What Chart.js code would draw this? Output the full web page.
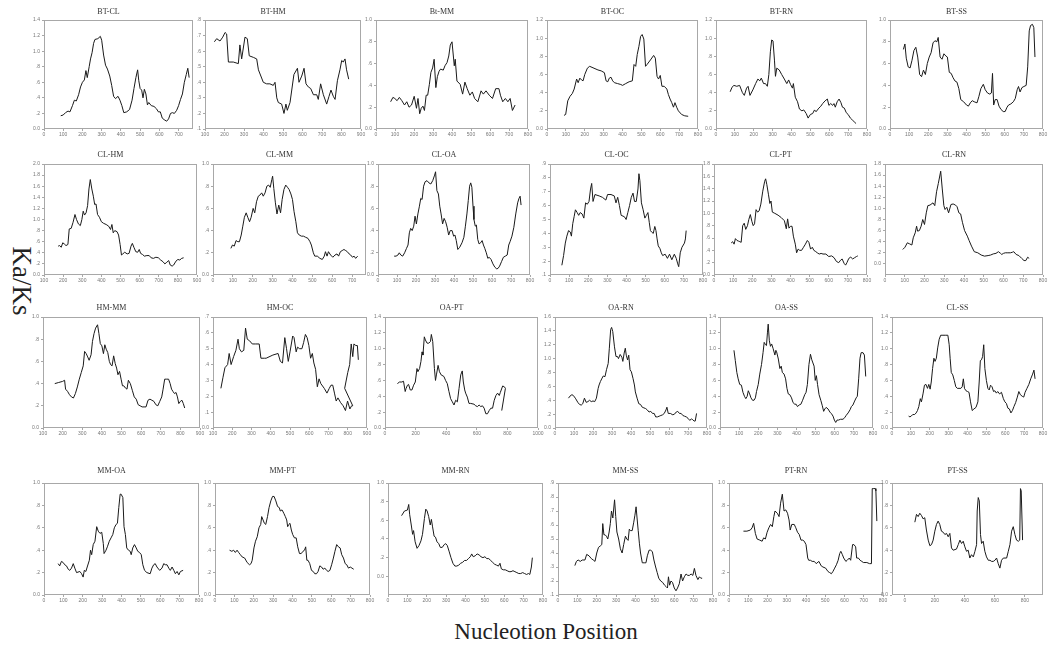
<!DOCTYPE html>
<html>
<head>
<meta charset="utf-8">
<script src="https://cdn.jsdelivr.net/npm/chart.js@4.4.1/dist/chart.umd.min.js"></script>
<style>
  body { margin: 0; background: #fff; }
  #page { position: relative; width: 1048px; height: 648px; overflow: hidden; background: #fff; }
  canvas { position: absolute; }
  .big { position: absolute; font-family: "Liberation Serif", "Times New Roman", serif; color: #222; white-space: nowrap; }
</style>
</head>
<body>
<div id="page">
  <div class="big" id="yTitle" style="left:21px; top:281px; font-size:27px; transform: translate(-50%, -50%) rotate(90deg);">Ka/Ks</div>
  <div class="big" id="xTitle" style="left:546px; top:632px; font-size:23px; transform: translate(-50%, -50%);">Nucleotion Position</div>
</div>
<script>
// panel titles, row by row
const TITLES = [
  'BT-CL', 'BT-HM', 'Bt-MM', 'BT-OC', 'BT-RN', 'BT-SS',
  'CL-HM', 'CL-MM', 'CL-OA', 'CL-OC', 'CL-PT', 'CL-RN',
  'HM-MM', 'HM-OC', 'OA-PT', 'OA-RN', 'OA-SS', 'CL-SS',
  'MM-OA', 'MM-PT', 'MM-RN', 'MM-SS', 'PT-RN', 'PT-SS'
];

// x axis: [min, max, first tick, last tick, tick step]
const X_AXES = [
  [0, 775, 0, 700, 100], [100, 900, 100, 900, 100], [0, 800, 0, 800, 100], [0, 800, 0, 800, 100], [0, 800, 0, 800, 100], [0, 800, 0, 800, 100],
  [100, 900, 100, 900, 100], [0, 770, 0, 700, 100], [0, 800, 0, 800, 100], [0, 800, 0, 800, 100], [0, 800, 0, 800, 100], [0, 800, 0, 800, 100],
  [100, 900, 100, 900, 100], [100, 900, 100, 900, 100], [0, 1000, 0, 1000, 200], [0, 800, 0, 800, 100], [0, 800, 0, 800, 100], [0, 800, 0, 800, 100],
  [0, 800, 0, 800, 100], [0, 800, 0, 800, 100], [0, 800, 0, 800, 100], [0, 800, 0, 800, 100], [0, 800, 0, 800, 100], [-85, 920, 0, 800, 200]
];

// y axis (Ka/Ks): [min, max, first tick, last tick, tick step]
const Y_AXES = [
  [0, 1.4, 0, 1.4, 0.2], [0.1, 0.8, 0.1, 0.8, 0.1], [0, 1, 0, 1, 0.2], [0, 1.2, 0, 1.2, 0.2], [0, 1.2, 0, 1.2, 0.2], [0, 1, 0, 1, 0.2],
  [0, 2, 0, 2, 0.2], [0, 1, 0, 1, 0.2], [0, 1, 0, 1, 0.2], [0.1, 0.9, 0.1, 0.9, 0.1], [0, 1.8, 0, 1.8, 0.2], [-0.2, 1.8, 0, 1.8, 0.2],
  [0, 1, 0, 1, 0.2], [0, 0.7, 0, 0.7, 0.1], [0, 1.4, 0, 1.4, 0.2], [0, 1.6, 0, 1.6, 0.2], [0, 1.4, 0, 1.4, 0.2], [0, 1.4, 0, 1.4, 0.2],
  [0, 1, 0, 1, 0.2], [0, 1, 0, 1, 0.2], [-0.2, 1, 0, 1, 0.2], [0.1, 0.9, 0.1, 0.9, 0.1], [0, 1, 0, 1, 0.2], [0, 1, 0, 1, 0.2]
];

// series: [nucleotide position, Ka/Ks]
const BT_CL = [[87,.17],[100,.18],[112,.21],[125,.23],[135,.22],[148,.30],[158,.37],[168,.36],[180,.44],[190,.54],[200,.60],[210,.63],[218,.75],[225,.66],[235,.80],[242,.90],[250,.98],[258,1.10],[265,1.15],[280,1.16],[293,1.19],[300,1.14],[310,.95],[320,.82],[330,.77],[342,.68],[352,.56],[362,.42],[372,.39],[385,.42],[395,.37],[405,.30],[415,.21],[430,.22],[445,.25],[458,.37],[468,.52],[478,.66],[487,.76],[493,.62],[500,.52],[508,.50],[515,.40],[522,.51],[530,.45],[538,.31],[545,.34],[558,.30],[572,.29],[585,.26],[595,.22],[605,.22],[615,.14],[625,.12],[638,.10],[648,.13],[658,.20],[668,.21],[678,.20],[690,.24],[700,.30],[710,.38],[720,.45],[730,.60],[740,.70],[748,.78],[755,.66]];
const BT_HM = [[148,.66],[160,.68],[177,.665],[191,.69],[203,.72],[211,.71],[220,.53],[245,.53],[271,.52],[279,.64],[288,.55],[305,.69],[317,.68],[327,.57],[348,.56],[365,.55],[374,.48],[399,.40],[416,.39],[433,.39],[450,.38],[459,.40],[468,.30],[476,.27],[493,.26],[505,.20],[515,.26],[522,.22],[536,.27],[556,.45],[574,.49],[582,.40],[596,.44],[608,.49],[618,.39],[630,.37],[642,.36],[656,.32],[673,.32],[681,.29],[693,.39],[707,.32],[724,.26],[736,.31],[746,.35],[758,.31],[767,.29],[779,.41],[792,.48],[801,.54],[809,.53],[818,.55],[826,.48],[837,.42]];
const BT_MM = [[77,.25],[89,.29],[99,.28],[111,.26],[123,.29],[136,.26],[150,.22],[162,.25],[174,.20],[187,.22],[201,.30],[213,.19],[221,.28],[230,.14],[238,.19],[247,.21],[255,.17],[264,.31],[272,.31],[281,.41],[289,.52],[298,.56],[306,.64],[315,.38],[323,.48],[332,.53],[340,.55],[354,.54],[363,.58],[374,.61],[383,.67],[391,.77],[400,.80],[412,.58],[417,.64],[426,.44],[443,.41],[456,.32],[468,.43],[480,.37],[494,.31],[507,.34],[519,.28],[536,.25],[553,.35],[565,.32],[579,.35],[596,.31],[613,.28],[630,.37],[647,.37],[655,.31],[667,.25],[681,.28],[694,.25],[706,.28],[718,.17],[732,.22]];
const BT_OC = [[90,.15],[99,.16],[110,.31],[122,.36],[134,.39],[144,.44],[157,.55],[165,.51],[174,.56],[183,.54],[191,.53],[200,.60],[214,.67],[226,.69],[270,.65],[287,.64],[304,.62],[313,.53],[322,.52],[330,.56],[339,.57],[348,.53],[357,.51],[374,.50],[391,.49],[400,.48],[417,.50],[435,.52],[452,.53],[461,.71],[470,.69],[478,.82],[487,.91],[496,1.02],[504,1.04],[513,.99],[522,.69],[530,.71],[548,.76],[565,.81],[574,.78],[583,.58],[591,.55],[600,.59],[609,.47],[621,.47],[635,.44],[643,.38],[652,.33],[661,.29],[670,.24],[678,.29],[687,.24],[696,.20],[713,.16],[730,.145],[748,.14]];
const BT_RN = [[75,.41],[85,.46],[95,.48],[110,.47],[125,.48],[140,.40],[150,.37],[162,.45],[170,.47],[180,.37],[195,.43],[210,.50],[222,.55],[232,.53],[240,.56],[252,.50],[262,.50],[272,.47],[280,.60],[288,.85],[295,.98],[302,.97],[310,.75],[315,.58],[322,.67],[335,.65],[348,.60],[362,.55],[375,.50],[385,.54],[395,.49],[405,.45],[410,.50],[420,.35],[432,.30],[442,.22],[455,.20],[465,.21],[478,.17],[488,.12],[500,.16],[512,.17],[522,.21],[530,.19],[545,.23],[555,.25],[565,.28],[578,.31],[590,.33],[598,.26],[608,.28],[618,.26],[625,.28],[632,.24],[642,.30],[652,.33],[662,.29],[670,.24],[680,.23],[690,.18],[700,.16],[712,.12],[722,.10],[732,.08],[742,.06]];
const BT_SS = [[70,.73],[78,.78],[85,.65],[95,.57],[105,.56],[115,.63],[125,.72],[135,.75],[145,.66],[155,.50],[165,.48],[175,.54],[185,.50],[195,.60],[205,.66],[215,.70],[225,.79],[235,.81],[245,.80],[252,.84],[262,.66],[272,.64],[282,.69],[292,.67],[300,.66],[310,.52],[320,.51],[330,.47],[340,.44],[350,.43],[360,.37],[370,.27],[385,.25],[400,.22],[410,.21],[420,.24],[430,.26],[440,.25],[455,.24],[465,.30],[475,.37],[488,.41],[498,.36],[510,.33],[522,.32],[530,.33],[536,.51],[542,.22],[550,.27],[560,.27],[570,.21],[580,.18],[592,.16],[602,.16],[612,.20],[620,.22],[632,.23],[645,.25],[655,.28],[665,.36],[672,.39],[680,.34],[690,.38],[700,.39],[712,.40],[720,.57],[728,.90],[735,.95],[745,.96],[752,.93],[758,.66]];

const CL_HM = [[174,.52],[182,.53],[190,.50],[198,.58],[206,.56],[215,.53],[225,.55],[232,.83],[242,.84],[252,.95],[262,1.09],[270,1.0],[280,.92],[290,.89],[298,1.0],[305,1.15],[312,1.08],[320,1.12],[328,1.25],[335,1.55],[342,1.72],[350,1.55],[358,1.42],[365,1.27],[372,1.28],[380,1.09],[390,1.04],[400,.96],[412,.93],[425,.91],[438,.88],[448,.82],[455,.91],[462,.76],[470,.80],[482,.78],[490,.72],[498,.55],[505,.36],[512,.38],[522,.41],[535,.38],[545,.39],[555,.52],[562,.57],[570,.50],[580,.42],[590,.41],[598,.46],[605,.39],[615,.37],[625,.34],[638,.35],[650,.35],[660,.31],[672,.30],[685,.32],[698,.31],[710,.27],[722,.24],[732,.20],[742,.23],[752,.26],[760,.18],[770,.16],[778,.18],[790,.25],[800,.28],[810,.27],[820,.30],[830,.31]];
const CL_MM = [[90,.24],[98,.27],[107,.26],[116,.31],[125,.30],[133,.30],[142,.36],[150,.44],[158,.52],[167,.56],[175,.52],[184,.48],[192,.52],[202,.60],[210,.56],[219,.66],[228,.71],[236,.72],[245,.74],[253,.71],[262,.74],[271,.80],[280,.81],[288,.79],[296,.86],[300,.89],[306,.78],[314,.65],[322,.55],[331,.63],[340,.56],[348,.68],[357,.77],[366,.81],[375,.79],[383,.77],[392,.73],[400,.68],[408,.57],[417,.48],[425,.38],[434,.36],[445,.35],[455,.35],[466,.34],[478,.33],[488,.30],[495,.27],[505,.20],[512,.17],[525,.17],[538,.15],[550,.14],[560,.17],[566,.21],[574,.17],[581,.21],[592,.18],[603,.16],[614,.18],[624,.19],[632,.17],[641,.21],[650,.22],[659,.23],[668,.22],[676,.21],[685,.19],[693,.18],[702,.16],[710,.17],[718,.15],[728,.17]];
const CL_OA = [[85,.17],[95,.17],[105,.18],[112,.20],[120,.18],[130,.17],[140,.20],[150,.24],[158,.27],[165,.38],[172,.42],[180,.40],[188,.44],[195,.53],[202,.46],[210,.55],[218,.62],[225,.69],[232,.68],[240,.80],[248,.84],[258,.85],[268,.83],[278,.82],[288,.85],[298,.90],[303,.93],[310,.76],[318,.73],[325,.62],[332,.55],[340,.46],[348,.51],[356,.48],[364,.43],[372,.36],[380,.40],[390,.40],[398,.35],[405,.36],[412,.31],[420,.23],[430,.25],[442,.29],[452,.34],[460,.44],[468,.55],[475,.67],[482,.80],[488,.83],[494,.79],[500,.62],[505,.50],[512,.44],[518,.45],[525,.32],[532,.28],[540,.29],[548,.31],[555,.27],[562,.24],[570,.20],[578,.15],[585,.16],[595,.14],[605,.10],[615,.07],[625,.055],[632,.06],[640,.08],[650,.12],[660,.16],[670,.17],[680,.18],[688,.27],[695,.30],[705,.35],[715,.43],[725,.55],[735,.65],[742,.69],[748,.71],[753,.63]];
const CL_OC = [[62,.17],[71,.24],[80,.33],[88,.38],[97,.42],[106,.41],[112,.38],[119,.47],[126,.52],[133,.57],[142,.55],[150,.53],[158,.55],[168,.54],[177,.51],[186,.62],[195,.61],[204,.63],[212,.72],[218,.76],[225,.63],[235,.68],[257,.67],[274,.66],[292,.64],[301,.68],[319,.68],[336,.67],[345,.62],[354,.66],[363,.60],[372,.53],[389,.52],[398,.50],[407,.55],[416,.60],[425,.66],[434,.69],[442,.63],[451,.63],[460,.72],[465,.83],[470,.78],[478,.62],[487,.57],[496,.51],[504,.53],[512,.55],[519,.48],[525,.42],[531,.41],[540,.40],[548,.45],[554,.42],[560,.36],[566,.31],[575,.29],[582,.26],[589,.24],[602,.25],[614,.22],[625,.25],[637,.21],[650,.25],[660,.22],[668,.18],[673,.16],[681,.26],[690,.30],[703,.33],[708,.36],[712,.42]];
const CL_PT = [[90,.52],[98,.54],[105,.50],[112,.59],[120,.56],[128,.55],[135,.54],[142,.53],[150,.80],[158,.84],[166,.74],[175,.80],[182,.90],[190,.98],[198,.87],[205,.80],[212,.83],[220,1.06],[228,1.02],[236,1.04],[245,1.15],[255,1.36],[265,1.52],[270,1.56],[276,1.47],[285,1.30],[292,1.16],[298,1.20],[305,1.02],[318,1.00],[335,.97],[352,.93],[368,.88],[378,.75],[385,.91],[392,.76],[400,.79],[408,.79],[415,.63],[425,.50],[432,.36],[440,.42],[448,.40],[458,.40],[468,.45],[478,.50],[488,.56],[496,.53],[505,.42],[514,.45],[522,.40],[532,.38],[540,.36],[550,.34],[560,.35],[570,.34],[585,.34],[600,.30],[615,.31],[628,.28],[640,.22],[652,.20],[662,.24],[670,.26],[680,.19],[688,.16],[695,.20],[705,.27],[715,.29],[725,.26],[735,.28],[745,.30],[752,.31]];
const CL_RN = [[90,.26],[101,.30],[113,.38],[125,.36],[136,.34],[143,.47],[153,.56],[160,.68],[165,.59],[174,.60],[183,.68],[191,.80],[200,.71],[209,.92],[217,1.05],[228,1.06],[243,1.10],[252,1.05],[261,1.30],[270,1.45],[282,1.67],[290,1.35],[298,1.05],[304,.98],[313,1.02],[322,.92],[334,1.07],[345,1.08],[357,1.06],[365,1.03],[374,.92],[383,.90],[392,.75],[403,.60],[417,.50],[426,.42],[438,.32],[452,.22],[470,.20],[487,.16],[504,.14],[522,.15],[535,.16],[548,.18],[562,.19],[574,.22],[585,.19],[591,.17],[600,.19],[609,.20],[622,.20],[635,.20],[645,.21],[652,.22],[664,.17],[678,.15],[692,.10],[704,.06],[713,.06],[722,.12],[730,.10]];

const HM_MM = [[160,.40],[180,.41],[200,.42],[210,.43],[215,.35],[225,.33],[235,.30],[245,.28],[255,.27],[265,.31],[275,.37],[285,.44],[295,.50],[305,.56],[312,.69],[320,.67],[328,.64],[335,.61],[345,.66],[352,.78],[360,.85],[368,.90],[378,.93],[385,.85],[392,.76],[400,.74],[408,.67],[415,.75],[422,.71],[430,.68],[438,.60],[445,.57],[452,.56],[460,.65],[468,.58],[475,.54],[482,.48],[490,.51],[498,.44],[505,.38],[512,.38],[520,.36],[528,.35],[535,.43],[545,.40],[555,.34],[565,.28],[575,.26],[585,.21],[595,.20],[605,.19],[615,.19],[625,.19],[635,.25],[645,.26],[655,.25],[665,.24],[675,.21],[685,.20],[695,.24],[705,.28],[712,.35],[720,.44],[730,.44],[740,.44],[748,.40],[755,.35],[762,.33],[770,.31],[778,.32],[785,.28],[792,.22],[800,.24],[808,.25],[815,.22],[822,.18]];
const HM_OC = [[141,.25],[152,.32],[162,.38],[176,.40],[184,.47],[194,.40],[207,.45],[219,.49],[230,.56],[237,.50],[248,.48],[260,.49],[269,.63],[278,.56],[290,.55],[304,.53],[322,.53],[340,.53],[349,.44],[367,.44],[376,.44],[411,.46],[438,.47],[450,.42],[461,.41],[473,.57],[482,.50],[491,.42],[500,.48],[514,.58],[521,.57],[532,.48],[539,.51],[550,.50],[562,.50],[571,.54],[580,.59],[589,.57],[598,.52],[607,.44],[616,.47],[624,.41],[633,.37],[642,.26],[651,.31],[660,.28],[678,.25],[692,.22],[704,.25],[713,.27],[722,.27],[731,.22],[740,.17],[749,.19],[763,.16],[776,.14],[788,.11],[799,.17],[811,.12],[820,.14],[826,.14],[784,.25],[800,.35],[810,.40],[818,.53],[826,.45],[832,.53],[842,.52],[850,.52],[855,.43]];
const OA_PT = [[81,.56],[95,.58],[110,.58],[121,.59],[132,.46],[138,.50],[147,.54],[154,.55],[165,.48],[176,.48],[187,.54],[198,.58],[209,.75],[215,.71],[226,.75],[235,.84],[242,.96],[248,.92],[257,1.15],[264,1.11],[275,1.07],[286,1.07],[297,1.09],[303,1.18],[312,1.09],[323,.75],[330,.60],[336,.67],[347,.79],[356,.71],[367,.67],[385,.65],[396,.60],[407,.56],[418,.46],[429,.37],[440,.33],[451,.29],[462,.35],[473,.33],[484,.50],[495,.67],[505,.72],[512,.58],[521,.48],[527,.44],[538,.39],[549,.31],[560,.31],[582,.30],[593,.28],[604,.27],[615,.29],[626,.27],[637,.28],[648,.25],[659,.18],[670,.18],[681,.22],[692,.25],[703,.25],[714,.35],[725,.41],[736,.44],[747,.41],[754,.45],[769,.53],[780,.52],[787,.50],[763,.22]];
const OA_RN = [[71,.43],[79,.46],[89,.48],[96,.47],[107,.43],[120,.37],[129,.34],[138,.33],[146,.35],[155,.43],[164,.37],[173,.38],[182,.40],[191,.38],[200,.39],[209,.38],[218,.43],[227,.57],[232,.62],[239,.67],[248,.72],[254,.75],[263,.74],[271,.84],[280,.93],[286,1.15],[293,1.42],[298,1.45],[304,1.39],[313,1.17],[321,1.03],[329,1.03],[334,1.0],[343,1.06],[352,1.02],[357,.96],[364,1.08],[370,1.15],[375,1.05],[382,.98],[388,1.05],[395,.84],[402,.81],[411,.71],[418,.62],[423,.52],[432,.43],[441,.35],[450,.34],[459,.30],[468,.29],[477,.28],[486,.26],[495,.23],[504,.24],[513,.21],[522,.21],[530,.16],[539,.16],[548,.17],[557,.18],[566,.19],[575,.21],[584,.26],[589,.30],[596,.21],[607,.21],[620,.19],[629,.20],[638,.23],[646,.24],[655,.21],[664,.21],[673,.18],[682,.17],[691,.16],[700,.14],[709,.11],[718,.13],[725,.12],[732,.10],[738,.10],[745,.21]];
const OA_SS = [[73,.98],[80,.85],[88,.70],[95,.62],[103,.55],[112,.54],[120,.45],[128,.40],[135,.37],[142,.40],[148,.47],[155,.43],[162,.38],[170,.35],[178,.35],[185,.38],[191,.46],[200,.55],[208,.68],[217,.80],[225,.95],[231,1.08],[238,1.05],[243,1.04],[248,1.20],[252,1.31],[258,1.10],[264,1.03],[270,1.06],[278,1.00],[287,.92],[292,.98],[296,.96],[305,.87],[313,.75],[320,.78],[326,.70],[335,.68],[343,.62],[350,.50],[357,.43],[365,.42],[374,.38],[382,.32],[391,.30],[398,.30],[405,.27],[414,.29],[423,.30],[432,.35],[443,.42],[450,.45],[457,.55],[465,.80],[473,.93],[480,.86],[486,.82],[492,.78],[498,.60],[504,.66],[510,.55],[518,.42],[527,.35],[535,.28],[542,.21],[548,.24],[555,.26],[565,.24],[575,.20],[583,.18],[591,.15],[598,.10],[605,.07],[612,.10],[620,.10],[630,.11],[643,.11],[652,.13],[660,.16],[670,.19],[680,.23],[687,.27],[695,.29],[704,.34],[712,.38],[718,.40],[725,.62],[732,.88],[738,.95],[748,.95],[755,.92],[762,.65]];
const CL_SS = [[88,.15],[95,.14],[102,.15],[110,.17],[120,.17],[128,.19],[135,.22],[142,.27],[150,.37],[156,.33],[165,.44],[172,.54],[180,.55],[188,.50],[195,.55],[202,.49],[208,.58],[215,.75],[222,.88],[228,.84],[235,.88],[242,1.01],[250,1.12],[258,1.17],[270,1.17],[285,1.17],[296,1.17],[303,1.05],[308,.88],[314,.70],[322,.67],[330,.60],[338,.52],[346,.50],[355,.50],[365,.50],[372,.52],[378,.62],[384,.50],[392,.47],[400,.46],[408,.45],[416,.33],[425,.22],[434,.24],[445,.26],[455,.33],[462,.58],[468,.85],[474,.86],[480,.90],[486,1.05],[492,.75],[500,.60],[508,.50],[515,.48],[522,.54],[530,.52],[538,.46],[545,.47],[553,.44],[560,.46],[570,.43],[580,.45],[590,.37],[598,.33],[606,.31],[614,.25],[622,.24],[630,.19],[638,.22],[646,.27],[655,.32],[664,.39],[672,.46],[680,.42],[690,.40],[698,.39],[705,.45],[715,.50],[725,.55],[735,.62],[745,.68],[752,.73],[758,.62]];

const MM_OA = [[73,.28],[81,.26],[90,.30],[99,.29],[107,.27],[116,.26],[125,.23],[133,.22],[142,.24],[151,.28],[159,.24],[168,.20],[185,.21],[194,.19],[202,.16],[208,.22],[216,.21],[223,.25],[234,.31],[240,.40],[246,.36],[254,.45],[263,.48],[272,.61],[280,.57],[289,.55],[298,.56],[306,.46],[310,.37],[320,.40],[327,.43],[337,.48],[346,.51],[355,.54],[363,.60],[372,.63],[379,.64],[386,.78],[393,.90],[398,.90],[407,.87],[413,.61],[420,.54],[427,.42],[436,.40],[445,.39],[450,.36],[458,.42],[467,.45],[476,.42],[484,.39],[493,.38],[502,.36],[510,.27],[519,.22],[531,.20],[548,.19],[557,.24],[566,.27],[574,.28],[583,.25],[597,.22],[609,.24],[618,.28],[626,.27],[635,.27],[644,.24],[652,.22],[661,.25],[670,.22],[678,.19],[687,.21],[696,.18],[704,.21],[718,.22]];
const MM_PT = [[75,.40],[87,.39],[96,.40],[105,.38],[114,.40],[122,.38],[131,.36],[140,.34],[153,.33],[166,.29],[178,.27],[186,.28],[192,.31],[201,.42],[209,.48],[218,.52],[227,.60],[236,.63],[241,.70],[248,.67],[255,.64],[262,.63],[271,.70],[279,.78],[288,.84],[297,.88],[305,.88],[314,.84],[323,.79],[332,.78],[337,.75],[346,.76],[355,.73],[363,.70],[370,.67],[375,.61],[381,.63],[387,.64],[394,.58],[401,.54],[410,.51],[419,.51],[427,.43],[436,.37],[445,.37],[454,.39],[462,.40],[468,.43],[474,.31],[480,.31],[489,.28],[498,.22],[507,.21],[515,.19],[524,.19],[532,.21],[541,.26],[550,.25],[558,.23],[567,.24],[576,.22],[584,.21],[593,.22],[602,.27],[611,.33],[619,.39],[628,.45],[637,.43],[646,.42],[654,.36],[663,.33],[672,.28],[680,.27],[689,.24],[698,.25],[707,.24],[716,.23]];
const MM_RN = [[70,.65],[85,.70],[100,.71],[107,.77],[112,.66],[120,.55],[127,.45],[132,.49],[140,.37],[150,.30],[160,.33],[170,.38],[178,.45],[188,.62],[195,.72],[202,.70],[210,.64],[218,.55],[224,.61],[230,.53],[238,.43],[245,.42],[253,.37],[262,.35],[270,.31],[280,.31],[290,.34],[298,.35],[306,.33],[315,.27],[325,.20],[335,.14],[345,.11],[355,.11],[365,.12],[375,.14],[385,.15],[395,.17],[405,.17],[415,.19],[425,.21],[432,.24],[440,.21],[450,.22],[460,.24],[470,.23],[480,.21],[490,.20],[500,.21],[510,.19],[520,.19],[530,.17],[540,.15],[550,.13],[560,.12],[570,.11],[578,.14],[585,.08],[595,.07],[605,.07],[615,.06],[625,.05],[635,.05],[645,.06],[655,.05],[665,.04],[675,.03],[685,.03],[695,.04],[705,.03],[715,.02],[725,.03],[732,.02],[740,.10],[745,.20]];
const MM_SS = [[87,.31],[95,.34],[104,.35],[115,.34],[125,.35],[139,.35],[148,.39],[160,.38],[172,.36],[182,.35],[191,.34],[200,.40],[209,.44],[218,.45],[226,.46],[231,.61],[237,.53],[243,.53],[250,.52],[257,.50],[264,.55],[270,.61],[276,.70],[283,.65],[292,.78],[298,.66],[304,.55],[313,.50],[322,.43],[331,.40],[339,.46],[348,.52],[355,.50],[362,.49],[368,.57],[374,.56],[383,.56],[391,.62],[397,.67],[403,.73],[408,.65],[414,.56],[420,.47],[426,.40],[435,.33],[445,.33],[454,.33],[461,.38],[470,.42],[478,.42],[487,.41],[495,.35],[504,.30],[512,.26],[520,.22],[530,.20],[540,.19],[550,.17],[558,.16],[565,.15],[570,.23],[576,.17],[583,.20],[591,.19],[600,.15],[609,.13],[617,.15],[626,.18],[635,.25],[643,.20],[652,.23],[661,.25],[670,.24],[678,.24],[687,.25],[696,.24],[704,.29],[712,.24],[722,.21],[730,.23],[737,.22],[744,.22]];
const PT_RN = [[75,.57],[93,.57],[111,.58],[120,.60],[128,.64],[137,.55],[146,.50],[160,.49],[172,.48],[180,.51],[189,.50],[198,.56],[207,.60],[216,.63],[225,.61],[233,.70],[239,.75],[251,.73],[260,.70],[268,.82],[277,.90],[286,.75],[295,.76],[304,.73],[312,.67],[318,.58],[326,.63],[339,.63],[347,.60],[356,.56],[365,.54],[374,.49],[383,.49],[391,.48],[400,.45],[409,.33],[414,.31],[423,.31],[432,.30],[443,.30],[453,.28],[467,.30],[479,.26],[488,.25],[502,.24],[514,.21],[523,.20],[532,.19],[540,.21],[549,.24],[558,.27],[567,.31],[575,.37],[581,.39],[589,.36],[596,.33],[607,.30],[614,.31],[625,.33],[632,.31],[642,.45],[649,.45],[658,.43],[663,.33],[672,.33],[681,.31],[690,.30],[698,.29],[716,.29],[730,.28],[740,.28],[744,.95],[752,.95],[760,.95],[763,.93],[768,.66]];
const PT_SS = [[67,.65],[78,.72],[89,.70],[100,.73],[111,.71],[122,.68],[133,.69],[144,.58],[156,.49],[167,.44],[178,.45],[189,.49],[200,.57],[211,.63],[222,.66],[233,.63],[244,.57],[256,.56],[267,.54],[278,.55],[289,.52],[300,.55],[311,.42],[322,.40],[344,.41],[356,.45],[367,.49],[378,.46],[389,.48],[400,.43],[411,.39],[422,.40],[433,.33],[444,.36],[456,.34],[467,.39],[478,.45],[482,.75],[489,.87],[496,.84],[504,.54],[511,.46],[522,.48],[533,.39],[544,.34],[556,.31],[567,.31],[578,.30],[589,.30],[600,.31],[611,.33],[622,.28],[633,.24],[644,.31],[656,.33],[667,.33],[678,.33],[689,.39],[700,.45],[711,.57],[722,.61],[733,.54],[744,.49],[756,.48],[765,.49],[770,.95],[775,.93],[784,.49]];

const SERIES = [
  BT_CL, BT_HM, BT_MM, BT_OC, BT_RN, BT_SS,
  CL_HM, CL_MM, CL_OA, CL_OC, CL_PT, CL_RN,
  HM_MM, HM_OC, OA_PT, OA_RN, OA_SS, CL_SS,
  MM_OA, MM_PT, MM_RN, MM_SS, PT_RN, PT_SS
];

// layout of the plot frames in page pixels
const ROWS = [
  { top: 20, bottom: 129, gap: 8 },
  { top: 164, bottom: 275, gap: 9 },
  { top: 317, bottom: 428, gap: 9 },
  { top: 483, bottom: 595, gap: 12 }
];
const COLS = [
  [[44, 193], [205, 361], [376, 528], [547, 698], [716, 867], [890, 1043]],
  [[44, 197], [213, 366], [378, 530], [550, 703], [714, 867], [885, 1043]],
  [[43, 200], [213, 367], [385, 538], [555, 707], [720, 873], [892, 1043]],
  [[44, 199], [215, 370], [388, 543], [558, 713], [729, 883], [892, 1043]]
];

const Y_AXIS_W = 20;
const X_AXIS_H = 11;
const PAD_RIGHT = 8;
const TITLE_SIZE = 8;
const FRAME = '#a8a8a8';
const TICK_FONT = { family: 'Liberation Sans, Arial, sans-serif', size: 5 };

function makeTicks(from, to, step) {
    const out = [];
    for (let v = from; v <= to + step / 2; v += step) out.push(Math.round(v * 100) / 100);
    return out;
}

function fmtY(v) {
    if (Math.abs(v) < 1e-9) return '0.0';
    const s = v.toFixed(1);
    return v < 1 ? s.replace(/^0/, '') : s;
}

const framePlugin = {
    id: 'frame',
    afterDraw(chart) {
        const { ctx, chartArea: a } = chart;
        ctx.save();
        ctx.strokeStyle = FRAME;
        ctx.lineWidth = 1;
        ctx.strokeRect(Math.round(a.left) + 0.5, Math.round(a.top) + 0.5,
            Math.round(a.right - a.left) - 1, Math.round(a.bottom - a.top) - 1);
        ctx.restore();
    }
};

function drawPanel(i) {
    const row = ROWS[Math.floor(i / 6)];
    const [left, right] = COLS[Math.floor(i / 6)][i % 6];
    const padBottom = row.gap - TITLE_SIZE / 2;
    const titleH = TITLE_SIZE + 2 + padBottom;

    const canvas = document.createElement('canvas');
    const w = (right - left) + Y_AXIS_W + PAD_RIGHT;
    const h = (row.bottom - row.top) + titleH + X_AXIS_H;
    canvas.width = w;
    canvas.height = h;
    canvas.style.width = w + 'px';
    canvas.style.height = h + 'px';
    canvas.style.left = (left - Y_AXIS_W) + 'px';
    canvas.style.top = (row.top - titleH) + 'px';
    document.getElementById('page').appendChild(canvas);

    const xa = X_AXES[i];
    const ya = Y_AXES[i];
    const xTicks = makeTicks(xa[2], xa[3], xa[4]);
    const yTicks = makeTicks(ya[2], ya[3], ya[4]);

    new Chart(canvas, {
        type: 'line',
        data: {
            datasets: [{
                data: SERIES[i].map(p => ({ x: p[0], y: p[1] })),
                borderColor: '#1a1a1a',
                borderWidth: 1,
                pointRadius: 0,
                tension: 0,
                fill: false
            }]
        },
        options: {
            responsive: false,
            animation: false,
            events: [],
            layout: { padding: { left: 0, right: PAD_RIGHT, top: 0, bottom: 0 } },
            plugins: {
                legend: { display: false },
                tooltip: { enabled: false },
                title: {
                    display: true,
                    text: TITLES[i],
                    color: '#333',
                    font: { family: 'Liberation Serif, Times New Roman, serif', size: TITLE_SIZE, weight: 'normal', lineHeight: 1 },
                    padding: { top: 2, bottom: padBottom }
                }
            },
            scales: {
                x: {
                    type: 'linear',
                    min: xa[0],
                    max: xa[1],
                    afterBuildTicks: s => { s.ticks = xTicks.map(v => ({ value: v })); },
                    afterFit: s => { s.height = X_AXIS_H; s.paddingLeft = 0; s.paddingRight = 0; },
                    grid: { drawOnChartArea: false, drawTicks: true, tickLength: 2, color: FRAME },
                    border: { display: false },
                    ticks: { font: TICK_FONT, color: '#777', padding: 1, maxRotation: 0, autoSkip: false, callback: v => String(v) }
                },
                y: {
                    min: ya[0],
                    max: ya[1],
                    afterBuildTicks: s => { s.ticks = yTicks.map(v => ({ value: v })); },
                    afterFit: s => { s.width = Y_AXIS_W; s.paddingTop = 0; s.paddingBottom = 0; },
                    grid: { drawOnChartArea: false, drawTicks: true, tickLength: 2, color: FRAME },
                    border: { display: false },
                    ticks: { font: TICK_FONT, color: '#777', padding: 2, autoSkip: false, callback: v => fmtY(v) }
                }
            }
        },
        plugins: [framePlugin]
    });
}

for (let i = 0; i < TITLES.length; i++) drawPanel(i);
</script>
</body>
</html>
